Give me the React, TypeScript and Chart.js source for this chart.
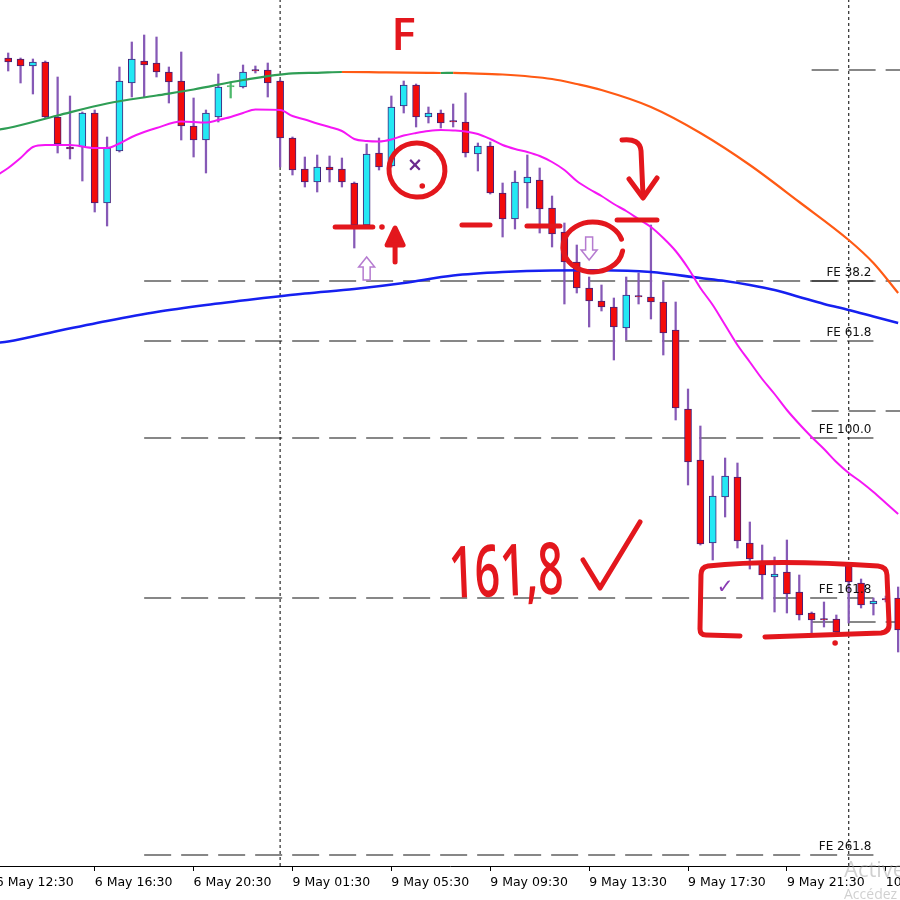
import React, { useEffect, useRef } from "react";
import { Chart, registerables } from "chart.js";

Chart.register(...registerables);

// M30 candles, bar 0 = 6 May 13:00
const OPEN = [1.13808,1.13807,1.13800,1.13804,1.13749,1.13719,1.13719,1.13753,1.13663,1.13715,1.13783,1.13805,1.13803,1.13794,1.13785,1.13740,1.13726,1.13749,1.13779,1.13779,1.13796,1.13796,1.13785,1.13728,1.13697,1.13684,1.13699,1.13697,1.13683,1.13641,1.13713,1.13700,1.13760,1.13781,1.13749,1.13753,1.13745,1.13744,1.13712,1.13720,1.13673,1.13647,1.13683,1.13686,1.13658,1.13634,1.13604,1.13578,1.13565,1.13559,1.13538,1.13570,1.13569,1.13564,1.13536,1.13457,1.13406,1.13323,1.13369,1.13389,1.13323,1.13304,1.13289,1.13294,1.13274,1.13253,1.13247,1.13247,1.13301,1.13283,1.13262,1.13267,1.13268];
const HIGH = [1.13813,1.13808,1.13807,1.13805,1.13789,1.13770,1.13754,1.13756,1.13729,1.13799,1.13824,1.13831,1.13829,1.13799,1.13814,1.13768,1.13756,1.13792,1.13784,1.13801,1.13800,1.13803,1.13786,1.13729,1.13709,1.13711,1.13710,1.13708,1.13684,1.13722,1.13728,1.13770,1.13785,1.13782,1.13759,1.13756,1.13762,1.13773,1.13723,1.13724,1.13683,1.13695,1.13711,1.13698,1.13670,1.13643,1.13621,1.13589,1.13581,1.13568,1.13589,1.13593,1.13641,1.13584,1.13564,1.13477,1.13440,1.13390,1.13408,1.13403,1.13344,1.13321,1.13309,1.13326,1.13291,1.13254,1.13264,1.13251,1.13302,1.13287,1.13268,1.13270,1.13279];
const LOW = [1.13795,1.13783,1.13772,1.13748,1.13713,1.13707,1.13685,1.13654,1.13640,1.13714,1.13769,1.13769,1.13789,1.13763,1.13726,1.13709,1.13693,1.13744,1.13768,1.13778,1.13793,1.13769,1.13699,1.13691,1.13679,1.13674,1.13684,1.13679,1.13618,1.13640,1.13696,1.13699,1.13753,1.13739,1.13743,1.13738,1.13739,1.13709,1.13695,1.13672,1.13629,1.13637,1.13658,1.13633,1.13619,1.13562,1.13573,1.13539,1.13555,1.13506,1.13526,1.13562,1.13547,1.13511,1.13446,1.13381,1.13321,1.13306,1.13349,1.13318,1.13297,1.13267,1.13254,1.13253,1.13246,1.13233,1.13239,1.13233,1.13243,1.13258,1.13251,1.13264,1.13214];
const CLOSE = [1.13804,1.13800,1.13804,1.13749,1.13722,1.13717,1.13753,1.13663,1.13718,1.13785,1.13807,1.13801,1.13794,1.13784,1.13740,1.13726,1.13753,1.13779,1.13779,1.13794,1.13795,1.13783,1.13728,1.13696,1.13684,1.13699,1.13696,1.13684,1.13641,1.13712,1.13699,1.13759,1.13781,1.13749,1.13753,1.13743,1.13744,1.13713,1.13720,1.13673,1.13647,1.13684,1.13689,1.13657,1.13632,1.13604,1.13578,1.13565,1.13559,1.13539,1.13571,1.13569,1.13564,1.13533,1.13458,1.13404,1.13322,1.13370,1.13390,1.13325,1.13307,1.13291,1.13292,1.13272,1.13251,1.13246,1.13246,1.13234,1.13284,1.13261,1.13265,1.13266,1.13236];

// slow colour-changing average
const SLOW_BARS = [-1,0,4,8,12,15,19,23,25,27,30,34,35,36,37,40,44,46,48,52,56,60,64,68,70,72];
const SLOW_MA = [1.13736,1.13738,1.137505,1.137625,1.137705,1.137765,1.13786,1.137927,1.137932,1.13794,1.137937,1.137932,1.13793,1.137932,1.137928,1.137915,1.13787,1.13782,1.13776,1.13759,1.13733,1.13701,1.13664,1.13626,1.13603,1.13573];

// fast average (magenta)
const FAST_BARS = [-1,0,1,2,3,5,7,8,9,10,11,12,14,16,17,18,19,20,22,23,24,25,26,27,28,29,30,31,32,33,34,35,36,37,38,39,40,41,42,43,44,45,46,47,48,49,50,51,52,53,54,55,56,57,58,59,60,61,62,63,64,65,66,67,68,69,70,71,72];
const FAST_MA = [1.1369,1.13698,1.13708,1.13719,1.13721,1.13721,1.13718,1.13718,1.137225,1.13729,1.13734,1.13738,1.137445,1.137435,1.13746,1.13749,1.13753,1.137565,1.13756,1.1375,1.137465,1.137425,1.13739,1.13735,1.13727,1.13725,1.137245,1.137265,1.137305,1.13733,1.13735,1.13736,1.137355,1.137345,1.13732,1.13727,1.13721,1.13717,1.13714,1.1371,1.13704,1.13696,1.13685,1.13677,1.1367,1.13662,1.13655,1.13647,1.13639,1.13628,1.13615,1.13598,1.13578,1.13561,1.13541,1.13521,1.13504,1.13487,1.13472,1.13456,1.13442,1.13429,1.13417,1.13404,1.13393,1.13384,1.13374,1.13363,1.13352];

// medium average (blue)
const MID_BARS = [-1,0,4,8,12,16,20,24,28,32,36,40,44,48,52,56,58,60,62,64,66,68,70,72];
const MID_MA = [1.13523,1.135245,1.13535,1.13545,1.13554,1.13561,1.13567,1.135725,1.13577,1.13583,1.135905,1.13594,1.135955,1.135957,1.13594,1.13588,1.13585,1.13581,1.13576,1.13569,1.13562,1.13556,1.135495,1.13543];

// time axis
const TICK_BARS = [-1, 7, 15, 23, 31, 39, 47, 55, 63, 71];
const TICK_LABELS = ["6 May 12:30","6 May 16:30","6 May 20:30","9 May 01:30","9 May 05:30","9 May 09:30","9 May 13:30","9 May 17:30","9 May 21:30","10 May 01:30"];
const DAY_BREAKS = [22, 68];

// Fibonacci expansion levels
const FE_NAMES = ["FE 38.2","FE 61.8","FE 100.0","FE 161.8","FE 261.8"];
const FE_LEVELS = [1.13585, 1.13525, 1.13428, 1.13268, 1.13011];
const FE_SPAN = [11, 70];
const FE2_LEVELS = [1.13796, 1.13585, 1.13455, 1.13244];
const FE2_SPAN = [65, 72.6];

const X_RANGE = [-0.663, 72.15];
const Y_RANGE = [1.13, 1.13866];

// hand-drawn notes, anchored on [bar, price]
const NOTE_F = [31, 1.13816];
const NOTE_TARGET = [35.75, 1.13268];
const NOTE_TICK = [47.88, 1.13278];
const RING_ENTRY = [33.07, 1.13696];
const RING_SIGNAL = [47.31, 1.13619];
const PEN_DOTS = [[33.5, 1.1368], [30.24, 1.13639], [66.9, 1.13223]];
const PEN_LINES = [
  [[26.45, 1.13639], [29.5, 1.13639]],
  [[36.71, 1.13641], [38.98, 1.13641]],
  [[41.97, 1.1364], [44.64, 1.1364]],
  [[49.26, 1.13646], [52.49, 1.13646]],
];
const PEN_UP_ARROW = [31.3, 1.13638];
const PEN_HOOK = [51.36, 1.13668];
const PEN_BOX = [56.13, 1.13299];
const BUY_ARROW = [29, 1.13609];
const SELL_ARROW = [47, 1.13606];
const CROSS_MARK = [32.9, 1.137];
const CHECK_MARK = [58, 1.13278];

const BULL = "#24e8f4";
const BEAR = "#f30b0b";
const DOJI = "#4cb86a";
const OUTLINE = "#43207a";
const WICK = "#8659b6";
const MA_UP = "#2f9e55";
const MA_DOWN = "#ff5a14";
const MA_FAST = "#f516f5";
const MA_MID = "#1620f0";
const LEVEL = "#111111";
const PEN = "#e3171d";
const MARKER = "#b57bd0";

const bars = OPEN.map((_, i) => i);
const trend = (i: number) => Math.sign(CLOSE[i] - OPEN[i]);

const overlay = {
  id: "overlay",
  afterDatasetsDraw(chart: any) {
    const { ctx } = chart;
    const xs = chart.scales.x;
    const ys = chart.scales.y;
    const at = (p: number[]) => [xs.getPixelForValue(p[0]), ys.getPixelForValue(p[1])];
    ctx.save();

    // level captions
    ctx.fillStyle = "#111";
    ctx.font = "12px 'DejaVu Sans'";
    ctx.textAlign = "right";
    ctx.textBaseline = "alphabetic";
    FE_LEVELS.forEach((lv, k) => {
      const [x, y] = at([FE_SPAN[1], lv]);
      ctx.fillText(FE_NAMES[k], x - 2, y - 5);
    });

    // hollow signal arrows
    const hollow = (tip: number[], dir: number) => {
      const [x, y] = at(tip);
      const shape = [[0, 0], [8, 10], [3.5, 10], [3.5, 23], [-3.5, 23], [-3.5, 10], [-8, 10]];
      ctx.beginPath();
      shape.forEach(([dx, dy], k) => {
        const X = x + dx, Y = y + dy * dir;
        k ? ctx.lineTo(X, Y) : ctx.moveTo(X, Y);
      });
      ctx.closePath();
      ctx.strokeStyle = MARKER;
      ctx.lineWidth = 1.5;
      ctx.stroke();
    };
    hollow(BUY_ARROW, 1);
    hollow(SELL_ARROW, -1);

    ctx.textAlign = "center";
    ctx.textBaseline = "middle";
    ctx.fillStyle = "#6a2a8e";
    ctx.font = "bold 19px 'DejaVu Sans'";
    let [mx, my] = at(CROSS_MARK);
    ctx.fillText("×", mx, my);
    ctx.fillStyle = "#8a3cb4";
    ctx.font = "20px 'DejaVu Sans'";
    [mx, my] = at(CHECK_MARK);
    ctx.fillText("✓", mx, my);

    // red pen
    ctx.strokeStyle = PEN;
    ctx.fillStyle = PEN;
    ctx.lineWidth = 5;
    ctx.lineCap = "round";
    ctx.lineJoin = "round";

    PEN_LINES.forEach(([a, b]) => {
      const [x1, y1] = at(a);
      const [x2, y2] = at(b);
      ctx.beginPath();
      ctx.moveTo(x1, y1);
      ctx.lineTo(x2, y2);
      ctx.stroke();
    });
    PEN_DOTS.forEach((d) => {
      const [x, y] = at(d);
      ctx.beginPath();
      ctx.arc(x, y, 2.8, 0, Math.PI * 2);
      ctx.fill();
    });

    let [cx, cy] = at(RING_ENTRY);
    ctx.beginPath();
    ctx.ellipse(cx, cy, 28, 27, 0.2, -0.3 * Math.PI, 1.68 * Math.PI);
    ctx.stroke();
    [cx, cy] = at(RING_SIGNAL);
    ctx.beginPath();
    ctx.ellipse(cx, cy, 30, 25, 0, 0.05 * Math.PI, 1.9 * Math.PI);
    ctx.stroke();

    // up arrow under the entry candle
    let [ax, ay] = at(PEN_UP_ARROW);
    ctx.beginPath();
    ctx.moveTo(ax, ay + 12);
    ctx.lineTo(ax, ay + 34);
    ctx.stroke();
    ctx.beginPath();
    ctx.moveTo(ax - 8, ay + 17);
    ctx.lineTo(ax, ay);
    ctx.lineTo(ax + 8, ay + 17);
    ctx.closePath();
    ctx.fill();
    ctx.stroke();

    // hooked arrow pointing down
    [ax, ay] = at(PEN_HOOK);
    ctx.beginPath();
    ctx.moveTo(ax - 21, ay - 58);
    ctx.quadraticCurveTo(ax - 3, ay - 60, ax - 2, ay - 47);
    ctx.lineTo(ax, ay - 2);
    ctx.stroke();
    ctx.beginPath();
    ctx.moveTo(ax - 14, ay - 19);
    ctx.lineTo(ax, ay);
    ctx.lineTo(ax + 14, ay - 20);
    ctx.stroke();

    // box around the basing candles
    const [bx, by] = at(PEN_BOX);
    ctx.beginPath();
    ctx.moveTo(bx + 38, by + 69);
    ctx.lineTo(bx + 4, by + 68);
    ctx.quadraticCurveTo(bx - 2, by + 68, bx - 2, by + 62);
    ctx.lineTo(bx - 1, by + 8);
    ctx.quadraticCurveTo(bx - 1, by, bx + 6, by - 1);
    ctx.quadraticCurveTo(bx + 71, by - 8, bx + 176, by - 1);
    ctx.quadraticCurveTo(bx + 185, by, bx + 185, by + 8);
    ctx.lineTo(bx + 187, by + 56);
    ctx.quadraticCurveTo(bx + 188, by + 65, bx + 179, by + 66);
    ctx.lineTo(bx + 63, by + 70);
    ctx.stroke();

    // handwriting
    const [fx, fy] = at(NOTE_F);
    ctx.textAlign = "left";
    ctx.textBaseline = "alphabetic";
    ctx.font = "600 46px 'Open Sans'";
    ctx.fillText("F", fx, fy);

    const [tx, ty] = at(NOTE_TARGET);
    ctx.save();
    ctx.translate(tx, ty);
    ctx.rotate(-0.04);
    ctx.scale(0.62, 1);
    ctx.font = "600 72px 'Open Sans'";
    ctx.fillText("161,8", 0, 0);
    ctx.restore();

    const [kx, ky] = at(NOTE_TICK);
    ctx.beginPath();
    ctx.moveTo(kx - 17, ky - 28);
    ctx.lineTo(kx, ky);
    ctx.lineTo(kx + 40, ky - 66);
    ctx.stroke();

    ctx.restore();
  },
  afterDraw(chart: any) {
    const { ctx, width, height } = chart;
    ctx.save();
    ctx.fillStyle = "rgba(150,150,150,0.45)";
    ctx.textAlign = "left";
    ctx.textBaseline = "alphabetic";
    ctx.font = "22px 'Open Sans'";
    ctx.fillText("Activer Windows", width - 56, height - 23);
    ctx.font = "14px 'Open Sans'";
    ctx.fillText("Accédez aux paramètres pour activer Windows.", width - 56, height - 1);
    ctx.restore();
  },
};

function buildConfig(): any {
  const lineOf = (xsArr: number[], ysArr: number[]) => xsArr.map((b, k) => ({ x: b, y: ysArr[k] }));
  const levelSet = (levels: number[], span: number[]) =>
    levels.map((lv) => ({
      type: "line",
      data: [{ x: span[0], y: lv }, { x: span[1], y: lv }],
      borderColor: LEVEL,
      borderWidth: 1.2,
      borderDash: [27, 10],
      pointRadius: 0,
      order: 3,
    }));

  return {
    type: "bar",
    data: {
      datasets: [
        {
          type: "line",
          label: "slow",
          data: lineOf(SLOW_BARS, SLOW_MA),
          borderColor: MA_UP,
          borderWidth: 2.2,
          pointRadius: 0,
          cubicInterpolationMode: "monotone",
          segment: {
            borderColor: (c: any) => (c.p1.parsed.y >= c.p0.parsed.y ? MA_UP : MA_DOWN),
          },
          order: 0,
        },
        {
          type: "line",
          label: "fast",
          data: lineOf(FAST_BARS, FAST_MA),
          borderColor: MA_FAST,
          borderWidth: 2,
          pointRadius: 0,
          cubicInterpolationMode: "monotone",
          order: 0,
        },
        {
          type: "line",
          label: "mid",
          data: lineOf(MID_BARS, MID_MA),
          borderColor: MA_MID,
          borderWidth: 2.6,
          pointRadius: 0,
          cubicInterpolationMode: "monotone",
          order: 0,
        },
        {
          type: "bar",
          label: "body",
          data: bars.map((i) => ({ x: i, y: [OPEN[i], CLOSE[i]] })),
          backgroundColor: bars.map((i) => (trend(i) > 0 ? BULL : trend(i) < 0 ? BEAR : DOJI)),
          borderColor: bars.map((i) => (trend(i) === 0 ? DOJI : OUTLINE)),
          borderWidth: 1,
          borderSkipped: false,
          barThickness: 7,
          minBarLength: 1.5,
          grouped: false,
          order: 1,
        },
        {
          type: "bar",
          label: "wick",
          data: bars.map((i) => ({ x: i, y: [LOW[i], HIGH[i]] })),
          backgroundColor: bars.map((i) => (trend(i) === 0 ? DOJI : WICK)),
          borderWidth: 0,
          barThickness: 1.6,
          grouped: false,
          order: 2,
        },
        ...levelSet(FE_LEVELS, FE_SPAN),
        ...levelSet(FE2_LEVELS, FE2_SPAN),
        ...DAY_BREAKS.map((b) => ({
          type: "line",
          data: [{ x: b, y: Y_RANGE[0] }, { x: b, y: Y_RANGE[1] }],
          borderColor: "#2a2a2a",
          borderWidth: 1.2,
          borderDash: [3, 3],
          pointRadius: 0,
          order: 4,
        })),
      ],
    },
    options: {
      responsive: false,
      animation: false,
      events: [],
      layout: { padding: 0, autoPadding: false },
      plugins: { legend: { display: false }, tooltip: { enabled: false } },
      scales: {
        x: {
          type: "linear",
          min: X_RANGE[0],
          max: X_RANGE[1],
          offset: false,
          afterBuildTicks: (s: any) => {
            s.ticks = TICK_BARS.map((v) => ({ value: v }));
          },
          afterFit: (s: any) => {
            s.height = 34;
            s.paddingLeft = 0;
            s.paddingRight = 0;
          },
          ticks: {
            autoSkip: false,
            maxRotation: 0,
            minRotation: 0,
            align: "start",
            padding: 4,
            color: "#000",
            font: { family: "DejaVu Sans", size: 12.5 },
            callback: (_v: any, i: number) => TICK_LABELS[i],
          },
          grid: { display: true, drawOnChartArea: false, drawTicks: true, tickLength: 5, color: "#000", offset: false },
          border: { display: true, color: "#000", width: 1 },
        },
        y: { type: "linear", display: false, min: Y_RANGE[0], max: Y_RANGE[1] },
      },
    },
    plugins: [overlay],
  };
}

export default function App() {
  const ref = useRef<HTMLCanvasElement>(null);
  useEffect(() => {
    document.body.style.margin = "0";
    const chart = new Chart(ref.current as HTMLCanvasElement, buildConfig());
    return () => chart.destroy();
  }, []);
  return (
    <div style={{ width: 900, height: 900, background: "#fff" }}>
      <canvas ref={ref} width={900} height={900} style={{ display: "block", width: 900, height: 900 }} />
    </div>
  );
}
